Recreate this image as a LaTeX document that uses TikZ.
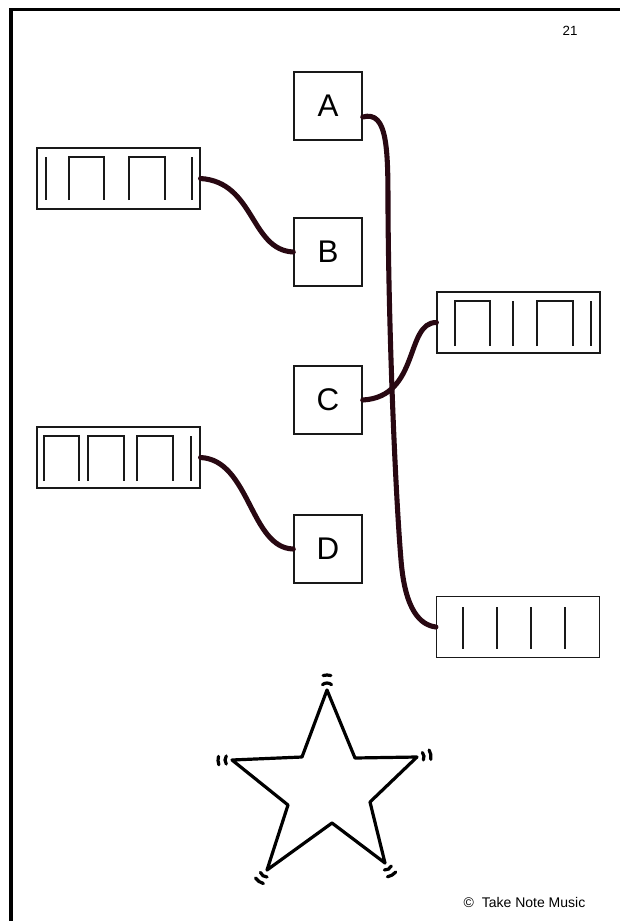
\documentclass[tikz,border=0pt]{standalone}
\usepackage{fontspec}
\setmainfont{Liberation Sans}
\usetikzlibrary{calc}
\definecolor{wire}{RGB}{40,8,18}
\definecolor{ink}{RGB}{25,25,25}
\tikzset{
  letterbox/.style={draw=ink,line width=1.1pt,minimum width=51pt,minimum height=51pt,inner sep=0pt,font=\fontsize{23.5}{25}\selectfont},
  rhythmbox/.style={draw=ink,line width=1.1pt,minimum width=122pt,minimum height=45.5pt,inner sep=0pt},
  notemark/.style={draw=ink,line width=2.1pt},
  wirestyle/.style={draw=wire,line width=3.8pt,line cap=round},
  starline/.style={draw=black,line width=2.4pt,line join=round},
  tipmark/.style={draw=black,line width=2.4pt,line cap=round}
}
\begin{document}
\begin{tikzpicture}[x=0.75pt,y=-0.75pt]
\useasboundingbox (0,0) rectangle (619,921);
% page border (top and left)
\draw[line width=2.6pt] (11,930) -- (11,9.5) -- (630,9.5);
\node[font=\fontsize{10}{12}\selectfont] (pg) at (570,31) {21};
\node[font=\fontsize{10.5}{12}\selectfont,anchor=east] (copy) at (590,902) {\textcopyright\ \ Take Note Music};

% letter boxes
\node[letterbox] (A) at (328,106) {A};
\node[letterbox] (B) at (328,252) {B};
\node[letterbox] (C) at (328,400) {C};
\node[letterbox] (D) at (328,549) {D};

% rhythm boxes
\node[rhythmbox] (R1) at (118.5,178.5) {};
\node[rhythmbox] (R2) at (518.5,322.5) {};
\node[rhythmbox] (R3) at (118.5,457.5) {};
\node[rhythmbox] (R4) at (518,627) {};

% R1: | П П |
\draw[notemark] (46,157) -- (46,200);
\draw[notemark] (69,200) -- (69,157) -- (104,157) -- (104,200);
\draw[notemark] (129,200) -- (129,157) -- (165,157) -- (165,200);
\draw[notemark] (192,157) -- (192,200);
% R2: П | П |
\draw[notemark] (455,346) -- (455,301) -- (490,301) -- (490,346);
\draw[notemark] (513,301) -- (513,346);
\draw[notemark] (537,346) -- (537,301) -- (573,301) -- (573,346);
\draw[notemark] (591,301) -- (591,346);
% R3: П П П |
\draw[notemark] (44,481) -- (44,436) -- (79,436) -- (79,481);
\draw[notemark] (88,481) -- (88,436) -- (124,436) -- (124,481);
\draw[notemark] (137,481) -- (137,436) -- (173,436) -- (173,481);
\draw[notemark] (191,436) -- (191,481);
% R4: | | | |
\foreach \xx in {463,497,531,565} \draw[notemark] (\xx,607) -- (\xx,649);

% connectors
\draw[wirestyle] ($(A.east)+(0,11)$) .. controls (388,110) and (388,150) .. (388,210)
  .. controls (389,350) and (396,500) .. (401,560)
  .. controls (405,610) and (420,625) .. (R4.west);
\draw[wirestyle] (C.east) .. controls (420,397) and (405,322) .. (R2.west);
\draw[wirestyle] (R1.east) .. controls (255,182) and (250,250) .. (B.west);
\draw[wirestyle] (R3.east) .. controls (250,460) and (250,548) .. (D.west);

% star
\draw[starline] (327,690) -- (355,758) -- (417,757) -- (370,802) -- (385,863)
  -- (332,823) -- (267,870) -- (288,805) -- (232,760) -- (302,757) -- cycle;
% ticks at the tips
\draw[tipmark] (327,690) ++(-130:7) arc[start angle=-130,end angle=-50,radius=7];
\draw[tipmark] (327,690) ++(-105:15) arc[start angle=-105,end angle=-75,radius=15];
\draw[tipmark] (232,760) ++(145:7) arc[start angle=145,end angle=215,radius=7];
\draw[tipmark] (232,760) ++(160:14) arc[start angle=160,end angle=195,radius=14];
\draw[tipmark] (417,757) ++(-40:7) arc[start angle=-40,end angle=25,radius=7];
\draw[tipmark] (417,757) ++(-30:14) arc[start angle=-30,end angle=10,radius=14];
\draw[tipmark] (267,870) ++(90:7) arc[start angle=90,end angle=160,radius=7];
\draw[tipmark] (267,870) ++(105:14) arc[start angle=105,end angle=145,radius=14];
\draw[tipmark] (385,863) ++(25:7) arc[start angle=25,end angle=95,radius=7];
\draw[tipmark] (385,863) ++(40:14) arc[start angle=40,end angle=80,radius=14];
\end{tikzpicture}
\end{document}
